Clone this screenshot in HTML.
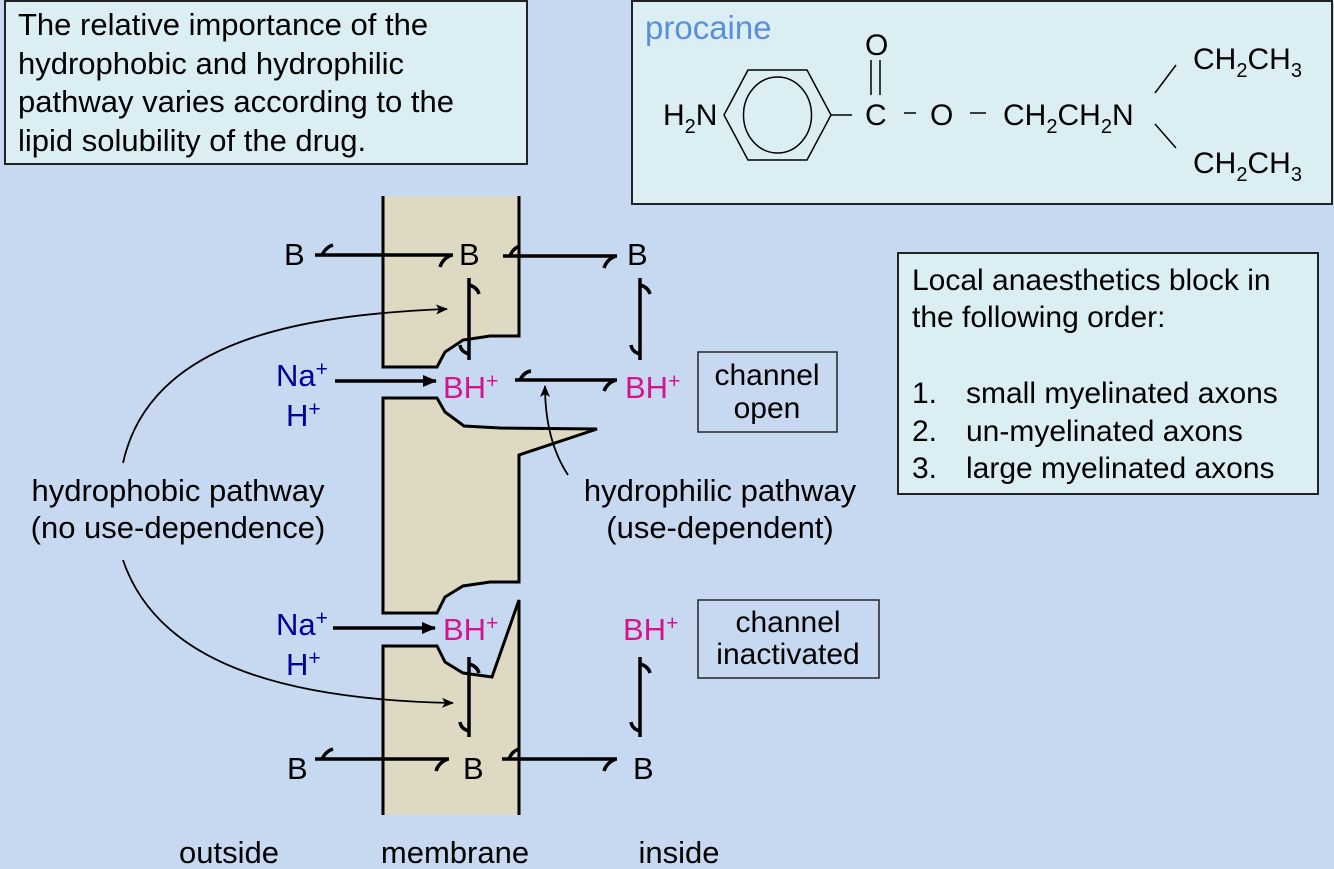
<!DOCTYPE html>
<html><head><meta charset="utf-8"><style>
html,body{margin:0;padding:0;background:#c6d9f0;}
svg{display:block;font-family:"Liberation Sans",Arial,sans-serif;}
</style></head><body>
<svg width="1334" height="869" viewBox="0 0 1334 869" xmlns="http://www.w3.org/2000/svg">
<defs>
<marker id="ah" markerWidth="12" markerHeight="10" refX="11" refY="5" orient="auto" markerUnits="userSpaceOnUse">
<path d="M0,0 L12,5 L0,10 L3,5 Z" fill="#000"/></marker>
<marker id="ahs" markerWidth="14" markerHeight="12" refX="13" refY="6" orient="auto" markerUnits="userSpaceOnUse">
<path d="M0,0 L14,6 L0,12 Z" fill="#000"/></marker>
</defs>
<rect width="1334" height="869" fill="#c6d9f0"/>
<rect x="5" y="1" width="522" height="163" fill="#dbeef4" stroke="#222" stroke-width="2"/>
<g font-size="31" fill="#000">
<text x="18" y="35">The relative importance of the</text>
<text x="18" y="74">hydrophobic and hydrophilic</text>
<text x="18" y="112">pathway varies according to the</text>
<text x="18" y="151">lipid solubility of the drug.</text>
</g>
<rect x="632" y="1" width="700" height="203" fill="#dbeef4" stroke="#222" stroke-width="2"/>
<text x="645" y="39" font-size="33" fill="#5b8fd9">procaine</text>
<polygon points="724,115 748,70 807,70 831,115 807,160 748,160" fill="none" stroke="#000" stroke-width="1.5"/>
<ellipse cx="777.5" cy="115" rx="34" ry="38" fill="none" stroke="#000" stroke-width="1.5"/>
<line x1="831" y1="115" x2="852" y2="115" stroke="#000" stroke-width="1.5"/>
<line x1="871" y1="60" x2="871" y2="95" stroke="#000" stroke-width="1.5"/>
<line x1="880" y1="60" x2="880" y2="95" stroke="#000" stroke-width="1.5"/>
<line x1="904" y1="113" x2="916" y2="113" stroke="#000" stroke-width="1.5"/>
<line x1="970" y1="113" x2="986" y2="113" stroke="#000" stroke-width="1.5"/>
<line x1="1155" y1="93" x2="1176" y2="65" stroke="#000" stroke-width="1.5"/>
<line x1="1155" y1="124" x2="1176" y2="148" stroke="#000" stroke-width="1.5"/>
<g font-size="30" fill="#000">
<text x="663" y="125">H<tspan font-size="20" dy="8">2</tspan><tspan dy="-8">N</tspan></text>
<text x="865" y="55">O</text>
<text x="865" y="125">C</text>
<text x="930" y="125">O</text>
<text x="1003" y="125">CH<tspan font-size="20" dy="8">2</tspan><tspan dy="-8">CH</tspan><tspan font-size="20" dy="8">2</tspan><tspan dy="-8">N</tspan></text>
<text x="1193" y="69">CH<tspan font-size="20" dy="8">2</tspan><tspan dy="-8">CH</tspan><tspan font-size="20" dy="8">3</tspan></text>
<text x="1193" y="173">CH<tspan font-size="20" dy="8">2</tspan><tspan dy="-8">CH</tspan><tspan font-size="20" dy="8">3</tspan></text>
</g>
<rect x="898" y="253" width="420" height="241" fill="#dbeef4" stroke="#222" stroke-width="2"/>
<g font-size="30" fill="#000">
<text x="912" y="290">Local anaesthetics block in</text>
<text x="912" y="327">the following order:</text>
<text x="912" y="403">1.</text><text x="966" y="403">small myelinated axons</text>
<text x="912" y="441">2.</text><text x="966" y="441">un-myelinated axons</text>
<text x="912" y="478">3.</text><text x="966" y="478">large myelinated axons</text>
</g>
<g fill="#ddd9c3" stroke="#000" stroke-width="3" stroke-linejoin="miter">
<path d="M383,196 L383,367 L437,367 L445,352 L463,340 L490,336 L519,336 L519,196"/>
<path d="M383,398 L437,398 L445,412 L464,426 L500,428 L597,429 L519,455 L519,582 L490,582 L463,586 L445,597 L437,613 L383,613 Z"/>
<path d="M383,815 L383,646 L437,646 L445,662 L463,673 L492,677 L519,600 L519,815"/>
</g>
<rect x="698" y="352" width="139" height="80" fill="#c6d9f0" stroke="#222" stroke-width="1.5"/>
<text x="767" y="385" font-size="30" text-anchor="middle">channel</text>
<text x="767" y="418" font-size="30" text-anchor="middle">open</text>
<rect x="698" y="600" width="181" height="78" fill="#c6d9f0" stroke="#222" stroke-width="1.5"/>
<text x="788" y="632" font-size="30" text-anchor="middle">channel</text>
<text x="788" y="664" font-size="30" text-anchor="middle">inactivated</text>
<g stroke="#000" stroke-width="3.5" fill="none" stroke-linecap="butt">
<line x1="315" y1="255" x2="453" y2="255"/>
<path d="M322,255 Q326,247 333,245"/><path d="M452,255 Q443,258 440,267"/>
<line x1="503" y1="256" x2="617" y2="256"/>
<path d="M510,256 Q513,248 520,246"/><path d="M616,256 Q607,259 604,268"/>
<line x1="469" y1="278" x2="469" y2="360"/>
<path d="M469,285 Q477,287 479,294"/><path d="M469,354 Q461,352 460,345"/>
<line x1="640" y1="278" x2="640" y2="360"/>
<path d="M640,285 Q648,287 650,294"/><path d="M640,354 Q632,352 631,345"/>
<line x1="515" y1="380" x2="617" y2="380"/>
<path d="M520,380 Q524,372 531,371"/><path d="M616,380 Q607,383 604,391"/>
<line x1="469" y1="657" x2="469" y2="737"/>
<path d="M469,664 Q477,666 479,673"/><path d="M469,731 Q461,729 460,722"/>
<line x1="640" y1="657" x2="640" y2="737"/>
<path d="M640,664 Q648,666 650,673"/><path d="M640,731 Q632,729 631,722"/>
<line x1="315" y1="759" x2="449" y2="759"/>
<path d="M322,759 Q326,751 333,749"/><path d="M448,759 Q439,762 436,771"/>
<line x1="502" y1="759" x2="617" y2="759"/>
<path d="M509,759 Q512,751 519,749"/><path d="M616,759 Q607,762 604,771"/>
</g>
<line x1="335" y1="381" x2="436" y2="381" stroke="#000" stroke-width="3.5" marker-end="url(#ahs)"/>
<line x1="333" y1="628" x2="435" y2="628" stroke="#000" stroke-width="3.5" marker-end="url(#ahs)"/>
<path d="M568,475 Q545,440 545,386" fill="none" stroke="#000" stroke-width="1.8" marker-end="url(#ah)"/>
<path d="M123,463 C150,340 300,315 447,309" fill="none" stroke="#000" stroke-width="1.8" marker-end="url(#ah)"/>
<path d="M123,560 C160,670 300,700 453,703" fill="none" stroke="#000" stroke-width="1.8" marker-end="url(#ah)"/>
<g font-size="31">
<text x="284" y="265">B</text>
<text x="459" y="265">B</text>
<text x="627" y="265">B</text>
<text x="287" y="779">B</text>
<text x="463" y="779">B</text>
<text x="633" y="779">B</text>
<text x="276" y="386" fill="#000099">Na<tspan font-size="21" dy="-10">+</tspan></text>
<text x="286" y="426" fill="#000099">H<tspan font-size="21" dy="-10">+</tspan></text>
<text x="276" y="635" fill="#000099">Na<tspan font-size="21" dy="-10">+</tspan></text>
<text x="286" y="675" fill="#000099">H<tspan font-size="21" dy="-10">+</tspan></text>
<text x="443" y="398" fill="#d6138f">BH<tspan font-size="21" dy="-10">+</tspan></text>
<text x="625" y="398" fill="#d6138f">BH<tspan font-size="21" dy="-10">+</tspan></text>
<text x="443" y="640" fill="#d6138f">BH<tspan font-size="21" dy="-10">+</tspan></text>
<text x="623" y="640" fill="#d6138f">BH<tspan font-size="21" dy="-10">+</tspan></text>
<text x="178" y="501" text-anchor="middle">hydrophobic pathway</text>
<text x="178" y="538" text-anchor="middle">(no use-dependence)</text>
<text x="720" y="501" text-anchor="middle">hydrophilic pathway</text>
<text x="720" y="538" text-anchor="middle">(use-dependent)</text>
<text x="229" y="863" text-anchor="middle">outside</text>
<text x="455" y="863" text-anchor="middle">membrane</text>
<text x="679" y="863" text-anchor="middle">inside</text>
</g>
</svg>
</body></html>
